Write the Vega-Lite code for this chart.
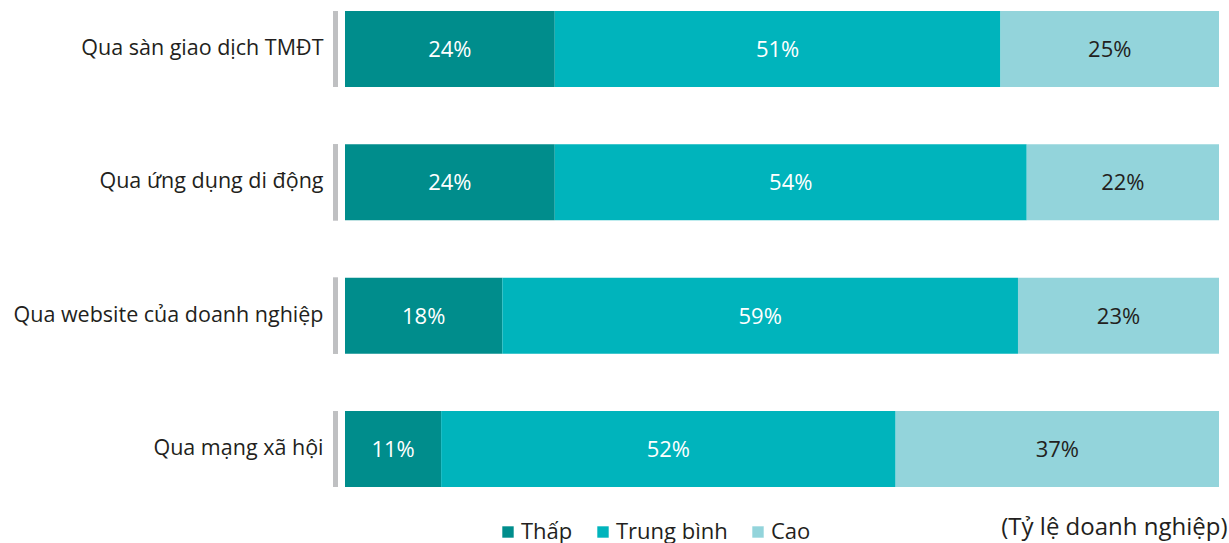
{
  "$schema": "https://vega.github.io/schema/vega-lite/v6.json",
  "width": 874,
  "height": 476,
  "autosize": {"type": "none"},
  "padding": {"left": 345, "top": 11, "right": 10, "bottom": 56},
  "background": "white",
  "config": {"view": {"stroke": null}, "font": "Open Sans"},
  "data": {"values": [
    {"kenh": "Qua sàn giao dịch TMĐT", "muc": "Thấp", "k": 1, "pct": 24},
    {"kenh": "Qua sàn giao dịch TMĐT", "muc": "Trung bình", "k": 2, "pct": 51},
    {"kenh": "Qua sàn giao dịch TMĐT", "muc": "Cao", "k": 3, "pct": 25},
    {"kenh": "Qua ứng dụng di động", "muc": "Thấp", "k": 1, "pct": 24},
    {"kenh": "Qua ứng dụng di động", "muc": "Trung bình", "k": 2, "pct": 54},
    {"kenh": "Qua ứng dụng di động", "muc": "Cao", "k": 3, "pct": 22},
    {"kenh": "Qua website của doanh nghiệp", "muc": "Thấp", "k": 1, "pct": 18},
    {"kenh": "Qua website của doanh nghiệp", "muc": "Trung bình", "k": 2, "pct": 59},
    {"kenh": "Qua website của doanh nghiệp", "muc": "Cao", "k": 3, "pct": 23},
    {"kenh": "Qua mạng xã hội", "muc": "Thấp", "k": 1, "pct": 11},
    {"kenh": "Qua mạng xã hội", "muc": "Trung bình", "k": 2, "pct": 52},
    {"kenh": "Qua mạng xã hội", "muc": "Cao", "k": 3, "pct": 37}
  ]},
  "transform": [
    {"stack": "pct", "groupby": ["kenh"], "sort": [{"field": "k", "order": "ascending"}], "as": ["x0", "x1"]},
    {"calculate": "(datum.x0 + datum.x1) / 2", "as": "xm"},
    {"calculate": "datum.pct + '%'", "as": "nhan"}
  ],
  "encoding": {
    "y": {
      "field": "kenh", "type": "nominal",
      "sort": ["Qua sàn giao dịch TMĐT", "Qua ứng dụng di động", "Qua website của doanh nghiệp", "Qua mạng xã hội"],
      "scale": {"paddingInner": 0.43, "paddingOuter": 0},
      "axis": {"title": null, "ticks": false, "domain": false, "labelPadding": 22, "labelFontSize": 21.5, "labelLimit": 0, "labelColor": "#231f20", "labelFont": "Open Sans"}
    }
  },
  "layer": [
    {
      "mark": {"type": "rect", "color": "#bfc0c2", "xOffset": -12, "x2Offset": -7},
      "encoding": {
        "x": {"datum": 0, "type": "quantitative", "scale": {"domain": [0, 100], "nice": false}},
        "x2": {"datum": 0}
      }
    },
    {
      "mark": {"type": "bar"},
      "encoding": {
        "x": {"field": "x0", "type": "quantitative", "scale": {"domain": [0, 100], "nice": false},
          "axis": {"labels": false, "ticks": false, "domain": false, "grid": false,
            "title": "(Tỷ lệ doanh nghiệp)", "titleFontSize": 24, "titleFontWeight": "normal", "titleColor": "#231f20",
            "titleAnchor": null, "titleAlign": "right", "titleBaseline": "alphabetic", "titleX": 882, "titleY": 47}},
        "x2": {"field": "x1"},
        "color": {
          "field": "muc", "type": "nominal",
          "scale": {"domain": ["Thấp", "Trung bình", "Cao"], "range": ["#008d8c", "#00b4bc", "#93d4db"]},
          "legend": {"title": null, "orient": "none", "direction": "horizontal", "legendX": 152, "legendY": 510,
            "symbolType": "square", "symbolSize": 130, "symbolStrokeWidth": 0, "labelFontSize": 22, "labelColor": "#231f20",
            "labelOffset": 2, "columnPadding": 19, "padding": 0}
        }
      }
    },
    {
      "mark": {"type": "text", "fontSize": 22, "align": "center", "baseline": "middle", "dy": 1},
      "encoding": {
        "x": {"field": "xm", "type": "quantitative"},
        "text": {"field": "nhan", "type": "nominal"},
        "color": {"condition": {"test": "datum.muc === 'Cao'", "value": "#231f20"}, "value": "#ffffff"}
      }
    }
  ]
}
